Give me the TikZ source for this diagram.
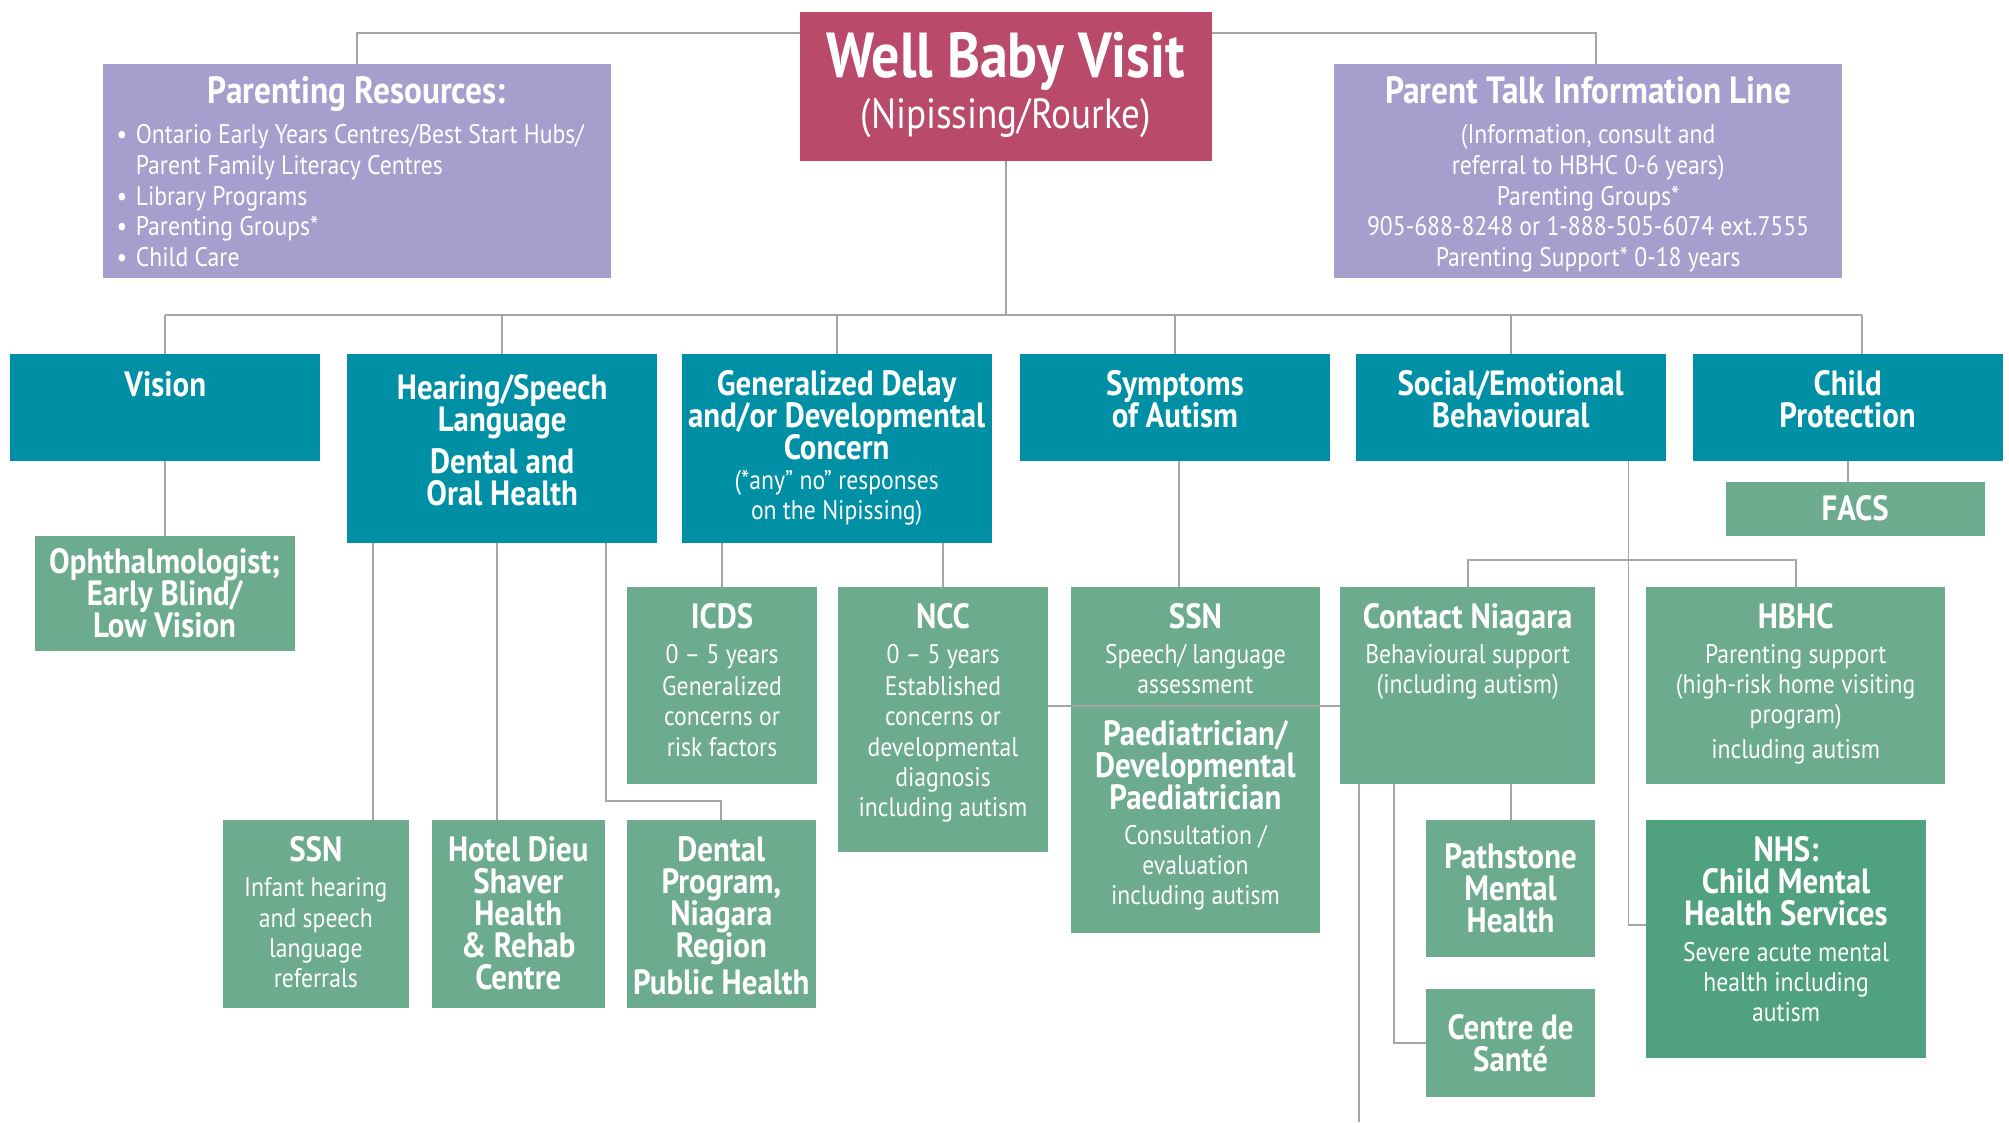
\documentclass[tikz,border=0pt]{standalone}
\usepackage{fontspec}
\setmainfont{PT Sans}[FakeStretch=0.88]
\usepackage{tikz}
\usetikzlibrary{calc}

\definecolor{wellred}{RGB}{186,74,107}
\definecolor{lilac}{RGB}{166,158,204}
\definecolor{tealblue}{RGB}{0,144,165}
\definecolor{sage}{RGB}{108,171,142}
\definecolor{deepsage}{RGB}{80,161,128}
\definecolor{linegray}{RGB}{165,165,165}

\newlength\px
\setlength\px{0.5pt}
\newcommand{\hdfont}{\fontsize{13.7}{12.5}\selectfont\bfseries}
\newcommand{\bigfont}{\fontsize{14.8}{14.8}\selectfont\bfseries}
\newcommand{\bdfont}{\fontsize{10.5}{11.75}\selectfont\mdseries}
\newcommand{\cellt}[3]{\parbox[t][#2\px][t]{#1\px}{\lineskiplimit=-20pt\centering\vspace*{6.5pt}#3}}
\newcommand{\cellc}[3]{\parbox[t][#2\px][c]{#1\px}{\lineskiplimit=-20pt\centering #3}}
\newcommand{\bitem}[1]{\hangindent=7.5pt\hangafter=1\noindent\makebox[7.5pt][l]{\textbullet}#1\par}

\tikzset{link/.style={draw=linegray, line width=0.75pt}}
\tikzset{wellbox/.style={fill=wellred}}
\tikzset{lilacbox/.style={fill=lilac}}
\tikzset{tealbox/.style={fill=tealblue}}
\tikzset{sagebox/.style={fill=sage}}
\tikzset{deepbox/.style={fill=deepsage}}

\begin{document}
\begin{tikzpicture}[x=0.5pt, y=-0.5pt]
	% Default action for each node
	\tikzstyle{every node}=[inner sep=0pt, outer sep=0pt, anchor=north west, text=white];
	\useasboundingbox (0,0) rectangle (1568,876);

	% TOP
	\node[lilacbox] (parres) at (80,50) {\cellt{397}{167}{\vspace*{-1.5pt}\bigfont Parenting Resources:\par\vspace{3.5pt}\bdfont\baselineskip=12pt\raggedright\leftskip=5.5pt
		\bitem{Ontario Early Years Centres/Best Start Hubs/\newline Parent Family Literacy Centres}\bitem{Library Programs}\bitem{Parenting Groups*}\bitem{Child Care}}};
	\node[wellbox] (well) at (624,9) {\cellt{322}{117}{\vspace*{1.5pt}\fontsize{24.8}{25}\selectfont\bfseries Well Baby Visit\par\fontsize{16.5}{20}\selectfont\mdseries (Nipissing/Rourke)}};
	\node[lilacbox] (talk) at (1041,50) {\cellt{397}{167}{\vspace*{-1.5pt}\bigfont Parent Talk Information Line\par\vspace{3.5pt}\bdfont\baselineskip=12pt (Information, consult and\\referral to HBHC 0-6 years)\\Parenting Groups*\\905-688-8248 or 1-888-505-6074 ext.7555\\Parenting Support* 0-18 years}};

	% CONCERNS
	\node[tealbox] (vision) at (8,276) {\cellt{242}{84}{\vspace*{0.5pt}\hdfont Vision}};
	\node[tealbox] (hearing) at (271,276) {\cellt{242}{148}{\vspace*{1.5pt}\hdfont Hearing/Speech\\Language\\[4pt]Dental and\\Oral Health}};
	\node[tealbox] (gendelay) at (532,276) {\cellt{242}{148}{\hdfont Generalized Delay\\and/or Developmental\\Concern\par\bdfont (*any” no” responses\\on the Nipissing)}};
	\node[tealbox] (autism) at (796,276) {\cellt{242}{84}{\hdfont Symptoms\\of Autism}};
	\node[tealbox] (social) at (1058,276) {\cellt{242}{84}{\hdfont Social/Emotional\\Behavioural}};
	\node[tealbox] (protect) at (1321,276) {\cellt{242}{84}{\hdfont Child\\Protection}};

	% SERVICES
	\node[sagebox] (ophth) at (27,418) {\cellc{203}{90}{\hdfont Ophthalmologist;\\Early Blind/\\Low Vision}};
	\node[sagebox] (facs) at (1347,376) {\cellc{202}{42}{\hdfont FACS}};
	\node[sagebox] (icds) at (489,458) {\cellt{149}{154}{\hdfont ICDS\par\vspace{1.75pt}\bdfont 0 – 5 years\\[1pt]Generalized\\concerns or\\risk factors}};
	\node[sagebox] (ncc) at (654,458) {\cellt{164}{207}{\hdfont NCC\par\vspace{1.75pt}\bdfont 0 – 5 years\\[1pt]Established\\concerns or\\developmental\\diagnosis\\including autism}};
	\node[sagebox] (ssnspeech) at (836,458) {\cellt{194}{92}{\hdfont SSN\par\vspace{1.75pt}\bdfont Speech/ language\\assessment}};
	\node[sagebox] (paed) at (836,552) {\cellt{194}{176}{\vspace*{-1.5pt}\hdfont Paediatrician/\\Developmental\\Paediatrician\par\vspace{2pt}\bdfont Consultation /\\evaluation\\including autism}};
	\node[sagebox] (contact) at (1046,458) {\cellt{199}{154}{\hdfont Contact Niagara\par\vspace{1.75pt}\bdfont Behavioural support\\(including autism)}};
	\node[sagebox] (hbhc) at (1285,458) {\cellt{233}{154}{\hdfont HBHC\par\vspace{1.75pt}\bdfont Parenting support\\(high-risk home visiting\\program)\\[2pt]including autism}};
	\node[sagebox] (ssnhear) at (174,640) {\cellt{145}{147}{\hdfont SSN\par\vspace{2pt}\bdfont Infant hearing\\and speech\\language\\referrals}};
	\node[sagebox] (hotel) at (337,640) {\cellt{135}{147}{\hdfont Hotel Dieu\\Shaver\\Health\\\& Rehab\\Centre}};
	\node[sagebox] (dental) at (489,640) {\cellt{148}{147}{\hdfont Dental\\Program,\\Niagara\\Region\\[2pt]Public Health}};
	\node[sagebox] (pathstone) at (1113,640) {\cellc{132}{107}{\hdfont Pathstone\\Mental\\Health}};
	\node[sagebox] (sante) at (1113,772) {\cellc{132}{84}{\hdfont Centre de\\Santé}};
	\node[deepbox] (nhs) at (1285,640) {\cellt{218}{186}{\hdfont NHS:\\Child Mental\\Health Services\par\vspace{2pt}\bdfont Severe acute mental\\health including\\autism}};

	% Top branches
	\draw[link] ($(well.north west)+(0,17)$) -| (parres.north);
	\draw[link] ($(well.north east)+(0,17)$) -| ($(talk.north)+(6,0)$);

	% Main bus
	\coordinate (bus) at ($(well.south)+(0,120)$);
	\coordinate (protectdrop) at ($(protect.north)+(11,0)$);
	\draw[link] (well.south) -- (bus);
	\draw[link] (bus -| vision.north) -- (bus -| protectdrop);
	\foreach \n in {vision, hearing, gendelay, autism, social}
		\draw[link] (bus -| \n.north) -- (\n.north);
	\draw[link] (bus -| protectdrop) -- (protectdrop);

	% Vision
	\draw[link] (vision.south) -- (vision.south |- ophth.north);

	% Hearing
	\coordinate (hear1) at ($(hearing.south west)+(20,0)$);
	\coordinate (hear2) at ($(hearing.south)+(-4,0)$);
	\coordinate (hear3) at ($(hearing.south east)+(-40,0)$);
	\draw[link] (hear1) -- (hear1 |- ssnhear.north);
	\draw[link] (hear2) -- (hear2 |- hotel.north);
	\draw[link] (hear3) |- ($(dental.north)+(0,-15)$) -- (dental.north);

	% Generalized delay
	\draw[link] (icds.north |- gendelay.south) -- (icds.north);
	\draw[link] (ncc.north |- gendelay.south) -- (ncc.north);

	% Autism
	\coordinate (aut1) at ($(autism.south)+(3,0)$);
	\draw[link] (aut1) -- (aut1 |- ssnspeech.north);
	\coordinate (midline) at ($(ssnspeech.south)!0.5!(paed.north)$);
	\draw[link] (ncc.east |- midline) -- (contact.west |- midline);

	% Social / emotional
	\coordinate (soc1) at ($(social.south east)+(-29,0)$);
	\draw[link] (soc1) |- ($(nhs.west)+(0,-11)$);
	\draw[link] (contact.north) -- ++(0,-21) -| (hbhc.north);

	% Child protection
	\draw[link] (protect.south) -- (protect.south |- facs.north);

	% Contact Niagara
	\coordinate (pagebottom) at (0,876);
	\coordinate (cn1) at ($(contact.south west)+(15,0)$);
	\coordinate (cn2) at ($(contact.south west)+(42,0)$);
	\draw[link] (cn1) -- (cn1 |- pagebottom);
	\draw[link] (cn2) |- (sante.west);
	\draw[link] (pathstone.north |- contact.south) -- (pathstone.north);
\end{tikzpicture}
\end{document}
